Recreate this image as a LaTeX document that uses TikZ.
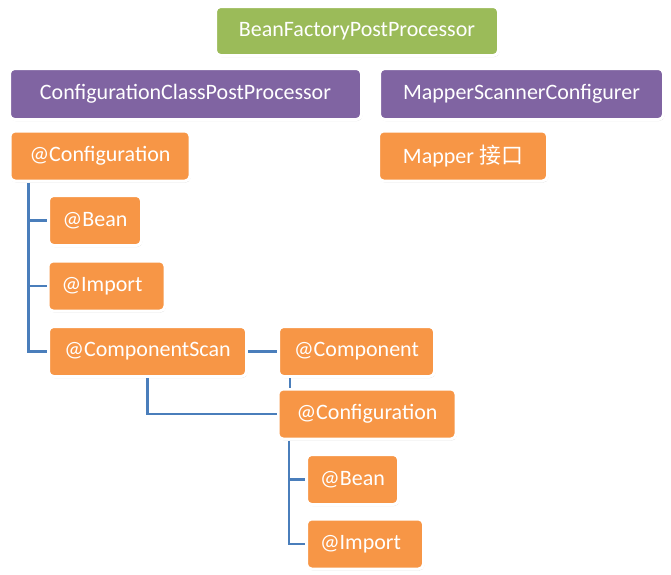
\documentclass[tikz,border=0pt]{standalone}
\usepackage{fontspec}
\setmainfont{Carlito}
\newfontfamily\cjk{Noto Sans CJK SC}
\usetikzlibrary{shadows,calc}
\definecolor{bfgreen}{HTML}{9BBB59}
\definecolor{ccpurple}{HTML}{8064A2}
\definecolor{annorange}{HTML}{F79646}
\definecolor{linkblue}{HTML}{4A7EBB}
\tikzstyle{every picture}+=[x=1pt,y=-1pt]
\tikzstyle{box}=[rectangle,rounded corners=5pt,draw=white,line width=3pt,text=white,
  font=\fontsize{22}{24}\selectfont,inner sep=0pt,
  drop shadow={opacity=0.3,shadow xshift=0.8pt,shadow yshift=-1.5pt}]
\tikzstyle{green box}=[box,fill=bfgreen,minimum height=49pt]
\tikzstyle{purple box}=[box,fill=ccpurple,minimum height=51pt]
\tikzstyle{orange box}=[box,fill=annorange,minimum height=50pt]
\tikzstyle{left box}=[orange box,minimum width=117pt,text width=90pt,align=left]
\tikzstyle{link}=[draw=linkblue,line width=2.5pt]

\begin{document}
\begin{tikzpicture}
\useasboundingbox (0,0) rectangle (671,574);
\node[green box,minimum width=283pt] (bfpp) at (357,31) {BeanFactoryPostProcessor};
\node[purple box,minimum width=352pt] (ccpp) at (185.5,94) {ConfigurationClassPostProcessor};
\node[purple box,minimum width=284pt] (msc) at (521.5,94) {MapperScannerConfigurer};
\node[orange box,minimum width=180pt] (conf) at (100,156) {@Configuration};
\node[orange box,minimum width=169pt] (mapper) at (463,156) {Mapper {\cjk 接口}};
\node[orange box,minimum width=93pt] (bean) at (95,220.5) {@Bean};
\node[left box] (import) at (106.5,286) {@Import};
\node[orange box,minimum width=198pt] (cscan) at (147.5,351.5) {@ComponentScan};
\node[orange box,minimum width=156pt] (comp) at (356.5,351.5) {@Component};
\node[orange box,minimum width=178pt] (conf2) at (367,414) {@Configuration};
\node[orange box,minimum width=92pt] (bean2) at (352.5,479.5) {@Bean};
\node[left box] (import2) at (365,544) {@Import};
\path[link] ([xshift=20pt]conf.south west) |- (bean.west)
            ([xshift=20pt]conf.south west) |- (import.west)
            ([xshift=20pt]conf.south west) |- (cscan.west);
\path[link] (cscan.east) -- (comp.west);
\path[link] (cscan.south) |- (conf2.west);
\path[link] ([xshift=13pt]comp.south west) -- ([xshift=13pt]comp.south west |- conf2.north);
\path[link] ([xshift=12.5pt]conf2.south west) |- (bean2.west)
            ([xshift=12.5pt]conf2.south west) |- (import2.west);
\end{tikzpicture}
\end{document}
